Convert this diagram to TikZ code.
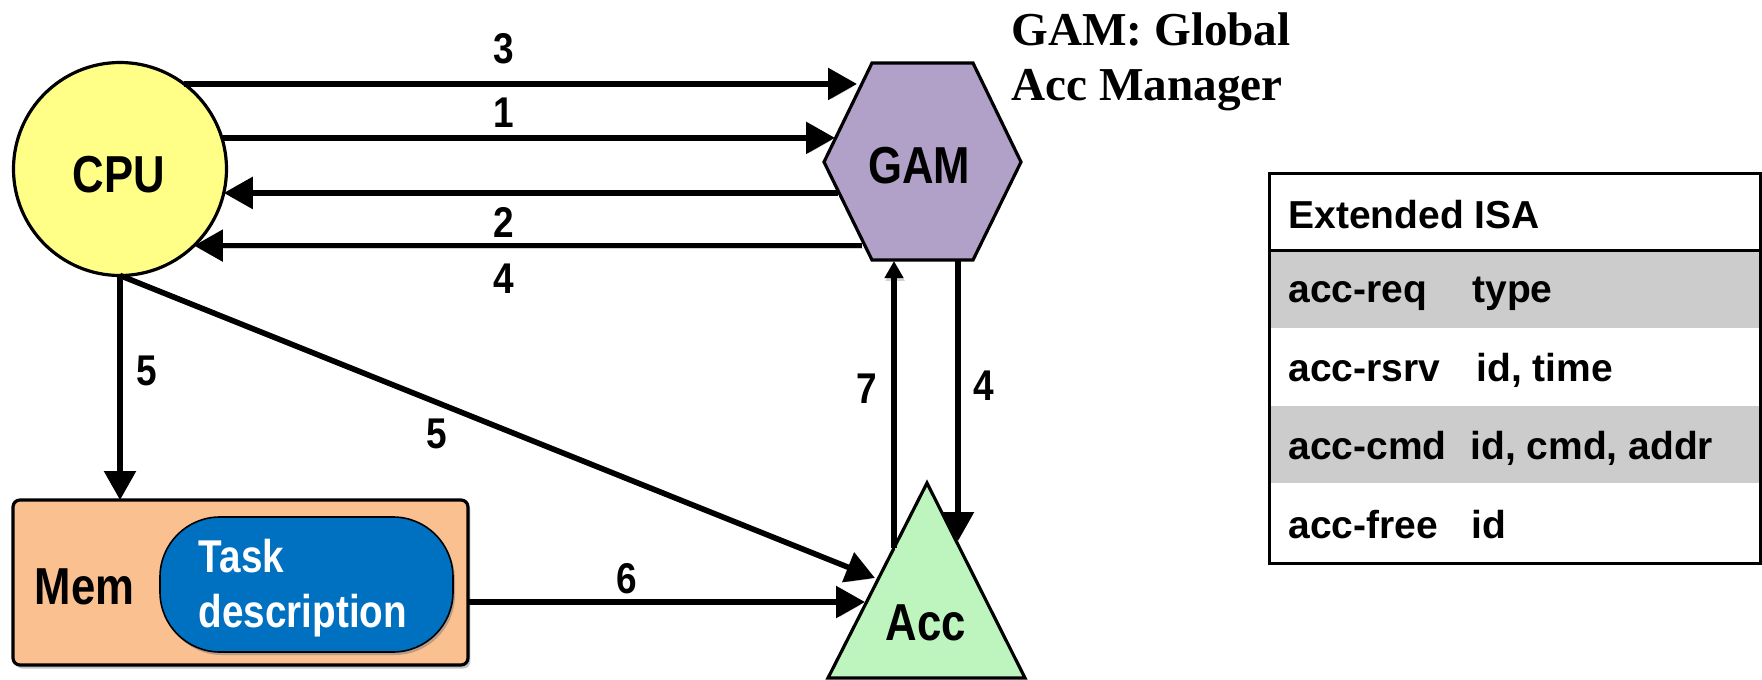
\documentclass[tikz,border=0pt]{standalone}
\usepackage{fontspec}
\setmainfont{Liberation Sans}
\newfontfamily\narrowfont[FakeStretch=0.84]{Liberation Sans}
\newfontfamily\digitfont[FakeStretch=0.86]{Liberation Sans}
\newfontfamily\serifface{Liberation Serif}
\usetikzlibrary{arrows.meta,shadows}

\definecolor{cpuyellow}{RGB}{255,255,136}
\definecolor{gampurple}{RGB}{177,160,199}
\definecolor{accgreen}{RGB}{190,245,190}
\definecolor{memorange}{RGB}{250,192,144}
\definecolor{taskblue}{RGB}{0,112,192}
\definecolor{rowgray}{RGB}{204,204,204}

\begin{document}
\begin{tikzpicture}[x=0.5pt, y=-0.5pt,
  lblbig/.style={font=\narrowfont\bfseries\fontsize{26}{30}\selectfont, inner sep=0pt, anchor=base},
  num/.style={font=\digitfont\bfseries\fontsize{21.5}{25}\selectfont, inner sep=0pt, anchor=base},
  isa/.style={font=\bfseries\fontsize{19.5}{23}\selectfont, inner sep=0pt, anchor=base west},
  title/.style={font=\serifface\bfseries\fontsize{23.6}{28}\selectfont, inner sep=0pt, anchor=base west},
  flow/.style={line width=2.8pt, -{Triangle[length=14.5pt,width=15.5pt]},
    preaction={draw=black!18, transform canvas={xshift=0.6pt,yshift=-1.4pt}}},
  flowsmall/.style={flow, -{Triangle[length=8.5pt,width=9pt]}},
  shapeline/.style={line width=1.6pt, line join=miter},
]
\useasboundingbox (0,0) rectangle (1762,680);
\fill[white] (0,0) rectangle (1762,680);

% CPU
\node[circle, draw, shapeline, fill=cpuyellow, minimum size=106.5pt,
      inner sep=0pt, outer sep=0pt] (cpu) at (120,169) {};
\node[lblbig] (cpulbl) at (119,192) {CPU};

% GAM hexagon
\filldraw[shapeline, fill=gampurple]
  (824,162) -- (872,63) -- (973,63) -- (1021,162) -- (973,260) -- (872,260) -- cycle;
\node[lblbig] (gam) at (919,183) {GAM};
\coordinate (gamS) at (922,261);

% Accelerator triangle
\filldraw[shapeline, fill=accgreen] (927,483) -- (828,678) -- (1025,678) -- cycle;
\node[lblbig] (acc) at (926,640) {Acc};

% Memory with task description
\node[draw, shapeline, rounded corners=3.5pt, fill=memorange,
      minimum width=227.5pt, minimum height=82.5pt, inner sep=0pt, outer sep=0pt,
      drop shadow={shadow xshift=1.2pt, shadow yshift=-1.8pt, opacity=0.45}]
      (mem) at (240.5,582.5) {};
\node[lblbig] (memlbl) at (84.5,604) {Mem};
\node[draw=black, line width=0.8pt, fill=taskblue, rounded corners=30pt,
      minimum width=146.5pt, minimum height=67.5pt, inner sep=0pt,
      drop shadow={shadow xshift=1pt, shadow yshift=-1.5pt, opacity=0.55}]
      (task) at (306.5,584.5) {};
\node[text=white, align=left, inner sep=0pt,
      font=\narrowfont\bfseries\fontsize{23}{27.5}\selectfont]
      (tasklbl) at (303,588) {Task\\description};

% Title
\node[title] (ttl1) at (1011,45) {GAM: Global};
\node[title] (ttl2) at (1011,100) {Acc Manager};

% Extended ISA table
\fill[rowgray] (1269,250) rectangle (1760,328);
\fill[rowgray] (1269,406) rectangle (1760,483);
\draw[line width=1.5pt] (1269,250) -- (1760,250);
\node[draw, line width=1.5pt, minimum width=245.5pt, minimum height=195pt,
      inner sep=0pt, outer sep=0pt, anchor=north west] (isa) at (1269,173) {};
\node[isa] (hdr) at (1288,228) {Extended ISA};
\node[isa] (r1a) at (1288,302) {acc-req};
\node[isa] (r1b) at (1472,302) {type};
\node[isa] (r2a) at (1288,381) {acc-rsrv};
\node[isa] (r2b) at (1476,381) {id, time};
\node[isa] (r3a) at (1288,459) {acc-cmd};
\node[isa] (r3b) at (1470,459) {id, cmd, addr};
\node[isa] (r4a) at (1288,538) {acc-free};
\node[isa] (r4b) at (1471,538) {id};

% Contact points on the hexagon and triangle borders
\coordinate (h3) at (857,83);
\coordinate (h1) at (835,137);
\coordinate (h2) at (838,193);
\coordinate (h4) at (862,245);
\coordinate (accL5) at (875,578);
\coordinate (accL6) at (865,602);
\coordinate (acc7) at (894,548);
\coordinate (acc4) at (958,541);

% Connectors
\draw[flow] (cpu.53.9) -- (cpu.53.9 -| h3);
\draw[flow] (cpu.17.5) -- (cpu.17.5 -| h1);
\draw[flow] (cpu.347 -| h2) -- (cpu.347);
\draw[flow] (cpu.314.5 -| h4) -- (cpu.314.5);
\draw[flow] (cpu.south) -- (cpu.south |- mem.north);
\draw[flow] (cpu.south) -- (accL5);
\draw[flow] (mem.east |- accL6) -- (accL6);
\draw[flowsmall] (acc7) -- (acc7 |- gamS);
\draw[flow] (acc4 |- gamS) -- (acc4);

% Step numbers
\node[num] (n3) at (504,63) {3};
\node[num] (n1) at (504,127) {1};
\node[num] (n2) at (504,237) {2};
\node[num] (n4a) at (504,293) {4};
\node[num] (n5a) at (147,385) {5};
\node[num] (n5b) at (437,448) {5};
\node[num] (n6) at (627,593) {6};
\node[num] (n7) at (867,403) {7};
\node[num] (n4b) at (984,400) {4};
\end{tikzpicture}
\end{document}
